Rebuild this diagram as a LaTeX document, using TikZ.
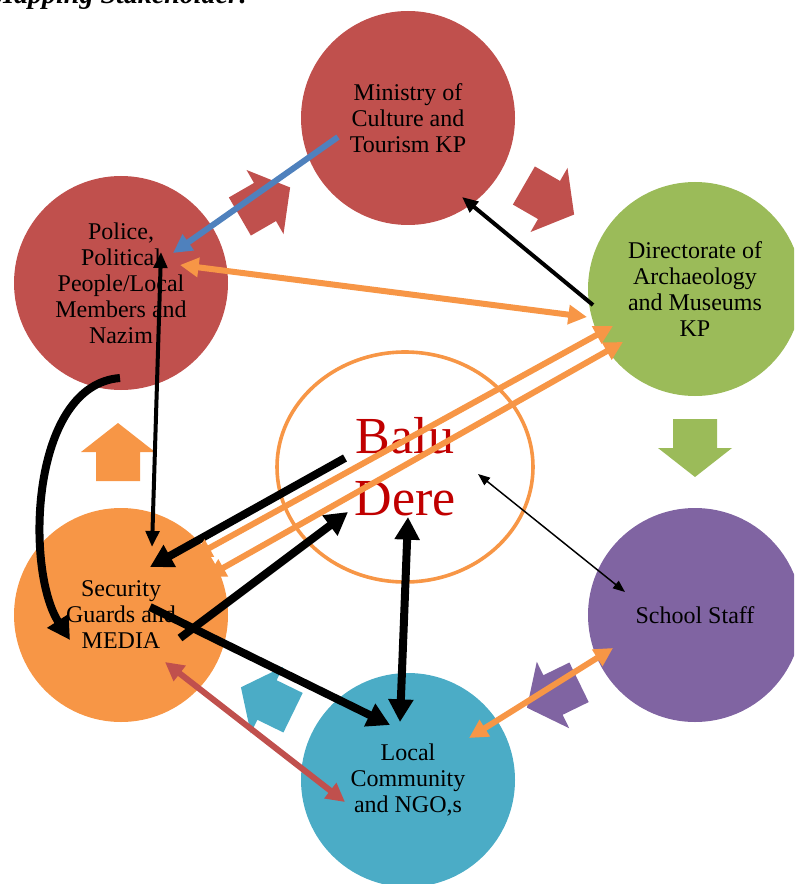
\documentclass[tikz,border=0pt]{standalone}
\usepackage{fontspec}
\setmainfont{Liberation Serif}
\usetikzlibrary{arrows.meta,shapes.geometric}

\definecolor{ckred}{HTML}{C0504D}
\definecolor{ckgreen}{HTML}{9BBB59}
\definecolor{ckpurple}{HTML}{8064A2}
\definecolor{ckteal}{HTML}{4BACC6}
\definecolor{ckorange}{HTML}{F79646}
\definecolor{ckblue}{HTML}{4F81BD}
\definecolor{ckdark}{HTML}{C00000}

\begin{document}
\begin{tikzpicture}[
    x=0.75pt, y=-0.75pt,
    every node/.style={font=\fontsize{18}{19.5}\selectfont},
    party/.style={
        circle,
        minimum size=160.5pt,
        inner sep=0pt,
        align=center
    },
    hub/.style={
        ellipse,
        draw=ckorange,
        line width=2.7pt,
        minimum width=192pt,
        minimum height=172.5pt,
        align=center,
        text=ckdark,
        font=\fontsize{39}{46.5}\selectfont
    },
    fatlink/.style={line width=6pt, >={Triangle[length=17pt,width=18pt]}},
    midlink/.style={line width=3pt, >={Triangle[length=12pt,width=10pt]}},
    thinlink/.style={line width=1.1pt, >={Triangle[length=9pt,width=7pt]}},
    colorlink/.style={line width=4.5pt, draw=#1, >={Triangle[length=14pt,width=14pt]}}
]
\useasboundingbox (0,0) rectangle (794,884);
\clip (0,0) rectangle (794,884);

\node[anchor=base west, inner sep=0pt, font=\bfseries\itshape\fontsize{21}{24}\selectfont] (title) at (-11,4) {Mapping Stakeholder:};

% stakeholders
\node[party, fill=ckred] (min) at (408,118) {Ministry of\\Culture and\\Tourism KP};
\node[party, fill=ckred] (pol) at (121,283) {Police,\\Political\\People/Local\\Members and\\Nazim};
\node[party, fill=ckgreen] (dir) at (695,289) {Directorate of\\Archaeology\\and Museums\\KP};
\node[party, fill=ckpurple] (sch) at (695,615) {School Staff};
\node[party, fill=ckteal] (loc) at (408,780) {Local\\Community\\and NGO,s};
\node[party, fill=ckorange] (sec) at (121,615) {Security\\Guards and\\MEDIA};

% cycle arrows
\foreach \px/\py/\ang/\col in {265/202/30/ckred, 549/200/-30/ckred, 695/448/-90/ckgreen,
    553/695/206/ckpurple, 267/700/154/ckteal, 118/452/90/ckorange}
  \fill[\col, shift={(\px,\py)}, rotate=\ang]
    (-29,-22) -- (0,-22) -- (0,-37) -- (29,0) -- (0,37) -- (0,22) -- (-29,22) -- cycle;

\node[hub] (balu) at (405,467) {Balu\\Dere};

% links
\draw[colorlink=ckblue, ->] ([shift={(-70,19)}]min.center) -- ([shift={(52,-30)}]pol.center);
\draw[colorlink=ckorange, <->] ([shift={(59,-18)}]pol.center) -- ([shift={(-108,28)}]dir.center);
\draw[midlink, ->] ([shift={(-102,16)}]dir.center) -- ([shift={(54,79)}]min.center);
\draw[midlink, <->] ([shift={(40,-31)}]pol.center) -- ([shift={(31,-68)}]sec.center);
\draw[fatlink, ->] ([shift={(-1,95)}]pol.center) .. controls +(-90,7) and +(-45,-70) .. ([shift={(-51,25)}]sec.center);
\draw[fatlink, ->] ([shift={(-60,-9)}]balu.center) -- ([shift={(29,-48)}]sec.center);
\draw[fatlink, ->] ([shift={(59,23)}]sec.center) -- ([shift={(-57,45)}]balu.center);
\draw[fatlink, ->] ([shift={(29,-8)}]sec.center) -- ([shift={(-18,-55)}]loc.center);
\draw[fatlink, <->] ([shift={(3,50)}]balu.center) -- ([shift={(-8,-58)}]loc.center);
\draw[thinlink, <->] ([shift={(73,7)}]balu.center) -- ([shift={(-70,-23)}]sch.center);
\draw[colorlink=ckorange, <->] ([shift={(-82,33)}]sch.center) -- ([shift={(61,-42)}]loc.center);
\draw[colorlink=ckred, <->] ([shift={(44,47)}]sec.center) -- ([shift={(-63,22)}]loc.center);
\draw[colorlink=ckorange, <->] ([shift={(72,-58)}]sec.center) -- ([shift={(-82,37)}]dir.center);
\draw[colorlink=ckorange, <->] ([shift={(86,-38)}]sec.center) -- ([shift={(-72,53)}]dir.center);

\end{tikzpicture}
\end{document}
